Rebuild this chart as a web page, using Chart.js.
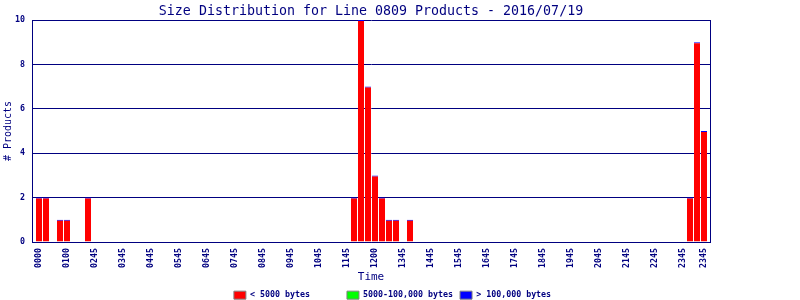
<!DOCTYPE html>
<html><head><meta charset="utf-8">
<script src="https://cdn.jsdelivr.net/npm/chart.js@4"></script>
<style>html,body{margin:0;padding:0;background:#fff;}canvas{display:block;}</style>
</head><body>
<canvas id="c" width="800" height="300"></canvas>
<script>
// 15-minute slots (0 = 00:00 ... 95 = 23:45) that hold products
const slots        = [0, 1, 3, 4, 7, 45, 46, 47, 48, 49, 50, 51, 53, 93, 94, 95];
const smallCounts  = [2, 2, 1, 1, 2, 2, 10, 7, 3, 2, 1, 1, 1, 2, 9, 5];
const mediumCounts = [0, 0, 0, 0, 0, 0, 0, 0, 0, 0, 0, 0, 0, 0, 0, 0];
const largeCounts  = [0, 0, 0, 0, 0, 0, 0, 0, 0, 0, 0, 0, 0, 0, 0, 0];
const tickSlots  = [0, 4, 8, 12, 16, 20, 24, 28, 32, 36, 40, 44, 48, 52, 56, 60, 64, 68, 72, 76, 80, 84, 88, 92, 95];
const tickLabels = ["0000","0100","0245","0345","0445","0545","0645","0745","0845","0945","1045","1145","1200","1345","1445","1545","1645","1745","1845","1945","2045","2145","2245","2345","2345"];
const yTicks = [0, 2, 4, 6, 8, 10];
const seriesNames = ["< 5000 bytes", "5000-100,000 bytes", "> 100,000 bytes"];

const NAVY = '#000080';
const colors = ['#ff0000', '#00ff00', '#0000ff'];
const mono = '"DejaVu Sans Mono", "Liberation Mono", monospace';
const toPoints = arr => arr.map((v, i) => ({x: slots[i], y: v}));

new Chart(document.getElementById('c'), {
  type: 'bar',
  data: {
    datasets: [
      {label: seriesNames[0], data: toPoints(smallCounts), backgroundColor: colors[0],
       borderColor: colors[2], borderWidth: {top: 1, left: 0, right: 0, bottom: 0}, borderSkipped: false},
      {label: seriesNames[1], data: toPoints(mediumCounts), backgroundColor: colors[1], borderWidth: 0},
      {label: seriesNames[2], data: toPoints(largeCounts), backgroundColor: colors[2], borderWidth: 0}
    ]
  },
  options: {
    responsive: false,
    animation: false,
    layout: {padding: {left: 0, right: 0, top: 0, bottom: -9.3}},
    datasets: {bar: {barThickness: 6, inflateAmount: 0}},
    scales: {
      x: {
        type: 'linear', stacked: true, offset: false,
        min: -1, max: -1 + 678 / 7,
        afterBuildTicks: a => { a.ticks = tickSlots.map(v => ({value: v})); },
        afterFit: a => { a.height = 42; },
        grid: {display: false, drawTicks: false},
        border: {display: true, color: NAVY, width: 1},
        ticks: {
          autoSkip: false, minRotation: 90, maxRotation: 90, padding: 6,
          color: NAVY, font: {family: mono, size: 8.3, weight: 'bold'},
          callback: (v, i) => tickLabels[i]
        },
        title: {display: true, text: 'Time', color: NAVY, font: {family: mono, size: 11}, padding: {top: 0, bottom: 0}}
      },
      y: {
        stacked: true, min: 0, max: 10,
        afterBuildTicks: a => { a.ticks = yTicks.map(v => ({value: v})); },
        afterFit: a => { a.width = 32; },
        grid: {color: NAVY, lineWidth: 1, drawTicks: false},
        border: {display: true, color: NAVY, width: 1},
        ticks: {padding: 7, color: NAVY, font: {family: mono, size: 8.3, weight: 'bold'}},
        title: {display: true, text: '# Products', color: NAVY, font: {family: mono, size: 10}, padding: {top: 2, bottom: 0}}
      },
      yRight: {
        position: 'right', min: 0, max: 1,
        afterFit: a => { a.width = 90; },
        grid: {display: true, drawOnChartArea: false, drawTicks: false},
        border: {display: true, color: NAVY, width: 1},
        ticks: {display: false}
      }
    },
    plugins: {
      title: {
        display: true, fullSize: false,
        text: 'Size Distribution for Line 0809 Products - 2016/07/19',
        color: NAVY, font: {family: mono, size: 13.3, weight: 'normal', lineHeight: '16px'},
        padding: {top: 4, bottom: 0}
      },
      legend: {
        position: 'bottom',
        labels: {
          boxWidth: 12, boxHeight: 8, padding: 7, color: NAVY,
          font: {family: mono, size: 8.3, weight: 'bold'},
          generateLabels: chart => chart.data.datasets.map((d, i) => ({
            text: d.label.padEnd(18, ' '),
            fillStyle: colors[i], strokeStyle: '#808080', lineWidth: 1,
            fontColor: NAVY, hidden: false, datasetIndex: i
          }))
        }
      },
      tooltip: {enabled: false}
    }
  }
});
</script>
</body></html>
